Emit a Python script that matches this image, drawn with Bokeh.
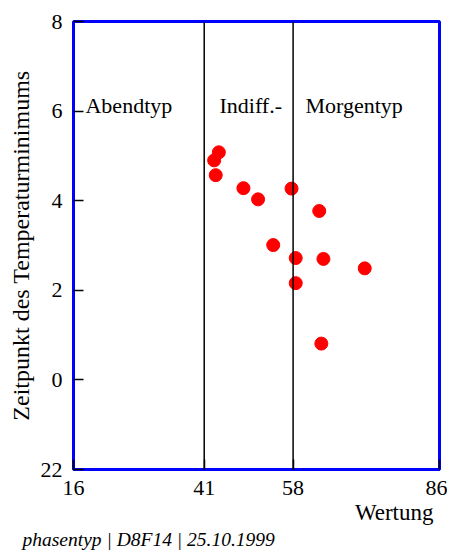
from bokeh.plotting import figure
from bokeh.models import Range1d, FixedTicker, Span, Label, Title
from bokeh.embed import file_html
from bokeh.resources import INLINE

# data
wertung = [43.8, 42.9, 43.2, 48.5, 51.3, 57.7, 63.0, 54.2, 58.5, 63.8, 71.7, 58.5, 63.4]
zeitpunkt = [5.08, 4.90, 4.57, 4.28, 4.03, 4.27, 3.77, 3.01, 2.72, 2.70, 2.49, 2.16, 0.81]
x_ticks = [16, 41, 58, 86]
y_ticks = [-2, 0, 2, 4, 6, 8]
y_tick_labels = {-2: "22", 0: "0", 2: "2", 4: "4", 6: "6", 8: "8"}
boundaries = [41, 58]
type_names = ["Abendtyp", "Indiff.-", "Morgentyp"]
type_label_x = [18.29, 43.92, 60.37]
type_label_y = 6.125

FONT = "Liberation Serif"

p = figure(frame_width=366, frame_height=448,
           x_range=Range1d(16, 86), y_range=Range1d(-2, 8),
           output_backend="svg", toolbar_location=None,
           min_border_left=73, min_border_top=21, min_border_right=8,
           min_border_bottom=10)

p.outline_line_color = "blue"
p.outline_line_width = 3
p.xgrid.visible = False
p.ygrid.visible = False
p.background_fill_color = "white"
p.border_fill_color = "white"

for ax in (p.xaxis[0], p.yaxis[0]):
    ax.axis_line_color = None
    ax.major_tick_in = 10
    ax.major_tick_out = 0
    ax.major_tick_line_color = "black"
    ax.major_tick_line_width = 1.5
    ax.minor_tick_line_color = None
    ax.major_label_text_font = FONT
    ax.major_label_text_font_size = "22px"
    ax.major_label_text_color = "black"

p.xaxis.ticker = FixedTicker(ticks=x_ticks)
p.yaxis.ticker = FixedTicker(ticks=y_ticks)
p.yaxis.major_label_overrides = y_tick_labels
p.xaxis.major_label_standoff = 11
p.yaxis.major_label_standoff = 11

p.yaxis.axis_label = "Zeitpunkt des Temperaturminimums"
p.yaxis.axis_label_text_font = FONT
p.yaxis.axis_label_text_font_size = "24px"
p.yaxis.axis_label_text_font_style = "normal"
p.yaxis.axis_label_text_color = "black"
p.yaxis.axis_label_standoff = 4

for b in boundaries:
    p.add_layout(Span(location=b, dimension="height", line_color="black", line_width=1.5))

p.scatter(wertung, zeitpunkt, size=13, color="red", line_color="red")

for name, lx in zip(type_names, type_label_x):
    p.add_layout(Label(x=lx, y=type_label_y, text=name, text_font=FONT,
                       text_font_size="22px", text_color="black",
                       text_baseline="alphabetic", text_align="left"))

p.add_layout(Title(text="Wertung", align="right", offset=6, standoff=0,
                   text_font=FONT, text_font_size="23px", text_font_style="normal",
                   text_color="black"), "below")
p.add_layout(Title(text="phasentyp | D8F14 | 25.10.1999", align="left", offset=-51,
                   standoff=5, text_font=FONT, text_font_size="19.5px",
                   text_font_style="italic", text_color="black"), "below")

open("out.html", "w").write(file_html(p, INLINE))
